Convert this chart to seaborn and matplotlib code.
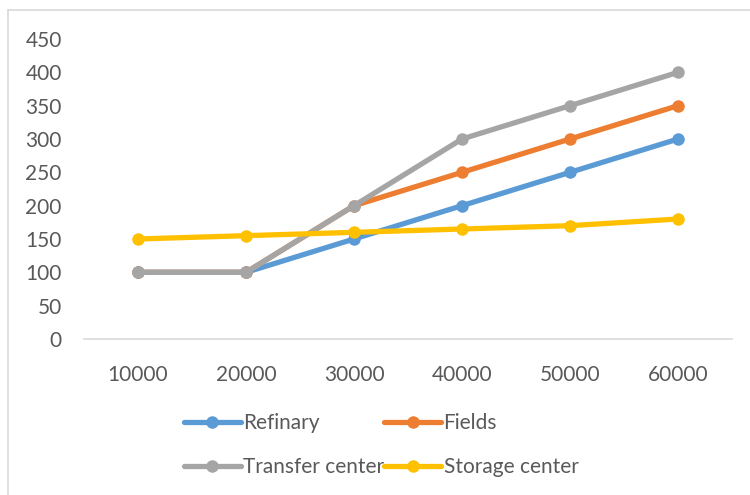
import matplotlib
matplotlib.use("Agg")
import matplotlib.pyplot as plt
import seaborn as sns
import pandas as pd
from matplotlib.lines import Line2D

categories = ["10000", "20000", "30000", "40000", "50000", "60000"]
refinary = [100, 100, 150, 200, 250, 300]
fields = [100, 100, 200, 250, 300, 350]
transfer = [100, 100, 200, 300, 350, 400]
storage = [150, 155, 160, 165, 170, 180]
series_names = ["Refinary", "Fields", "Transfer center", "Storage center"]
colors = ["#5B9BD5", "#ED7D31", "#A5A5A5", "#FFC000"]

rows = []
for name, vals in zip(series_names, [refinary, fields, transfer, storage]):
    for c, v in zip(categories, vals):
        rows.append({"x": c, "value": v, "series": name})
df = pd.DataFrame(rows)

sns.set_theme(style="white")
plt.rcParams["font.family"] = ["Lato", "DejaVu Sans"]

W, H = 750, 495
fig = plt.figure(figsize=(7.5, 4.95), dpi=100)
ax = fig.add_axes([84 / W, 1 - 339 / H, (732 - 84) / W, (339 - 39) / H])

sns.lineplot(data=df, x="x", y="value", hue="series", palette=colors,
             hue_order=series_names, sort=False, marker="o", markersize=9,
             markeredgewidth=0, linewidth=3.8, ax=ax, legend=False)

ax.set_xlim(-0.5, 5.5)
ax.set_ylim(0, 450)
ax.set_yticks(range(0, 451, 50))
ax.set_xlabel("")
ax.set_ylabel("")
for s in ["top", "right", "left"]:
    ax.spines[s].set_visible(False)
ax.spines["bottom"].set_color("#D9D9D9")
ax.spines["bottom"].set_linewidth(1.2)
ax.tick_params(axis="both", length=0, labelsize=15, colors="#595959")
ax.tick_params(axis="x", pad=19)
ax.tick_params(axis="y", pad=16)

handles = [Line2D([0], [0], color=c, lw=3.8, marker="o", markersize=9,
                  markeredgewidth=0) for c in colors]
order = [0, 2, 1, 3]
leg = fig.legend([handles[i] for i in order], [series_names[i] for i in order],
                 loc="center", ncol=2,
                 bbox_to_anchor=(381 / W, 1 - 445 / H), frameon=False,
                 fontsize=15, handlelength=2.75, handletextpad=0.1,
                 columnspacing=0.0, labelspacing=1.15)
for t in leg.get_texts():
    t.set_color("#595959")

# chart border
fig.add_artist(Line2D([8 / W, 8 / W], [1 - 10 / H, 0], transform=fig.transFigure,
                      color="#D9D9D9", lw=1.2))
fig.add_artist(Line2D([8 / W, 1], [1 - 10 / H, 1 - 10 / H], transform=fig.transFigure,
                      color="#D9D9D9", lw=1.2))

fig.savefig("out.png", dpi=100)
